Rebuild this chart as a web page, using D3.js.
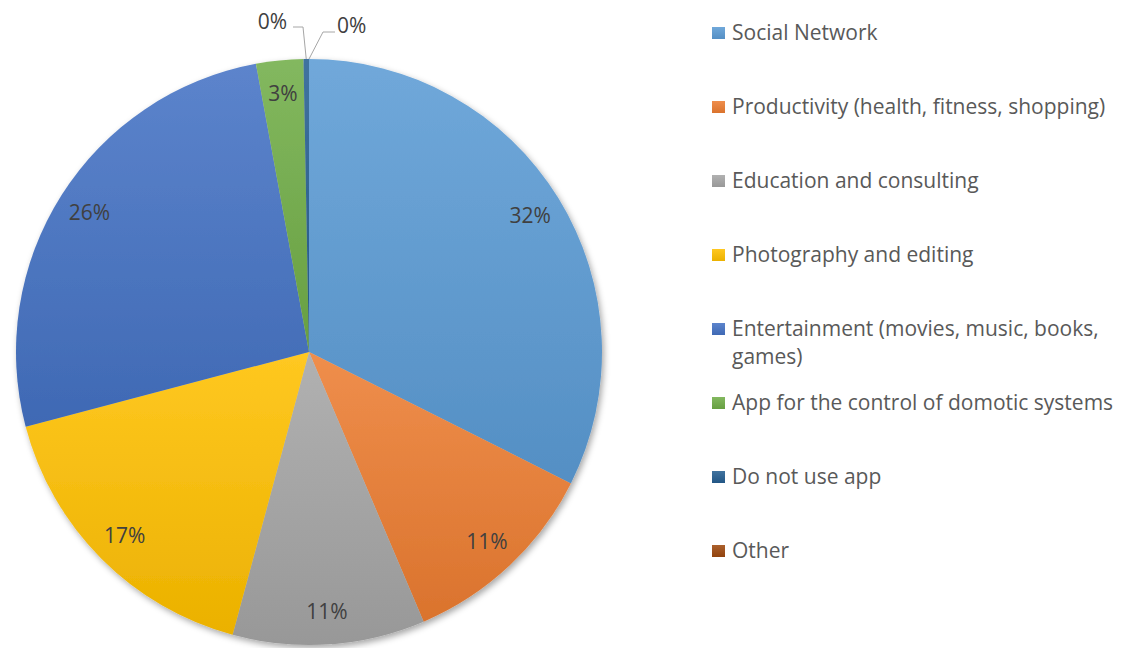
<!DOCTYPE html>
<html>
<head>
<meta charset="utf-8">
<script src="https://cdn.jsdelivr.net/npm/d3@7"></script>
<style>
  body { margin: 0; background: #fff; }
  text { font-family: "Open Sans", "Noto Sans", sans-serif; }
</style>
</head>
<body>
<script>
// chart data (share of answers, %)
var categories = ["Social Network", "Productivity (health, fitness, shopping)", "Education and consulting",
                  "Photography and editing", "Entertainment (movies, music, books, games)",
                  "App for the control of domotic systems", "Do not use app", "Other"];
var shares = [32.4, 11.2, 10.6, 16.7, 26.2, 2.6, 0.3, 0];
var colors = ["#5B9BD5", "#ED7D31", "#A5A5A5", "#FFC000", "#4472C4", "#70AD47", "#255E91", "#9E480E"];

var w = 1123;
var h = 648;

var cx = 309, cy = 352, radius = 293, labelRadius = 260;

var svg = d3.select("body")
            .append("svg")
            .attr("width", w)
            .attr("height", h);

var defs = svg.append("defs");

// soft shadow under the pie
var shadow = defs.append("filter")
                 .attr("id", "shadow")
                 .attr("x", "-10%").attr("y", "-10%")
                 .attr("width", "120%").attr("height", "120%");
shadow.append("feDropShadow")
      .attr("dx", 2).attr("dy", 3)
      .attr("stdDeviation", 3)
      .attr("flood-color", "#000")
      .attr("flood-opacity", 0.35);

// one top-to-bottom gradient per category, like the office style
colors.forEach(function(c, i) {
  var g = defs.append("linearGradient")
              .attr("id", "grad" + i)
              .attr("x1", 0).attr("y1", 0)
              .attr("x2", 0).attr("y2", 1);
  g.append("stop").attr("offset", "0%").attr("stop-color", d3.interpolateRgb(c, "#fff")(0.13));
  g.append("stop").attr("offset", "100%").attr("stop-color", d3.interpolateRgb(c, "#000")(0.08));
});

var pie = d3.pie().sort(null).value(function(d) { return d; });
var arcs = pie(shares);

var arc = d3.arc().innerRadius(0).outerRadius(radius);
var labelArc = d3.arc().innerRadius(labelRadius).outerRadius(labelRadius);

var chart = svg.append("g")
               .attr("transform", "translate(" + cx + "," + cy + ")");

chart.append("g")
     .attr("filter", "url(#shadow)")
     .selectAll("path")
     .data(arcs)
     .enter()
     .append("path")
     .attr("d", arc)
     .attr("fill", function(d, i) { return "url(#grad" + i + ")"; });

function pct(d) { return Math.round(d.data) + "%"; }

// labels inside the slices
chart.selectAll(".inlabel")
     .data(arcs.filter(function(d) { return d.data >= 1; }))
     .enter()
     .append("text")
     .attr("class", "inlabel")
     .attr("transform", function(d) { return "translate(" + labelArc.centroid(d) + ")"; })
     .attr("text-anchor", "middle")
     .attr("dy", "0.35em")
     .style("font-size", "21px")
     .style("fill", "#404040")
     .text(pct);

// tiny slices get labels outside with leader lines
var small = arcs.filter(function(d) { return d.data < 1; });
var outside = [
  { elbow: [-6, -325], end: [-16, -325], textX: -22, textY: -330, anchor: "end" },
  { elbow: [14, -320], end: [26, -320], textX: 28, textY: -326, anchor: "start" }
];

small.forEach(function(d, i) {
  var a = (d.startAngle + d.endAngle) / 2;
  var edge = [Math.sin(a) * radius, -Math.cos(a) * radius];
  var o = outside[i];
  chart.append("polyline")
       .attr("points", [edge, o.elbow, o.end].map(function(p) { return p.join(","); }).join(" "))
       .attr("fill", "none")
       .attr("stroke", "#a6a6a6")
       .attr("stroke-width", 1);
  chart.append("text")
       .attr("x", o.textX)
       .attr("y", o.textY)
       .attr("dy", "0.35em")
       .attr("text-anchor", o.anchor)
       .style("font-size", "21px")
       .style("fill", "#404040")
       .text(pct(d));
});

// legend
var legendY = d3.scalePoint()
                .domain(categories)
                .range([33, 551]);

var legend = svg.selectAll(".legend")
                .data(categories)
                .enter()
                .append("g")
                .attr("class", "legend")
                .attr("transform", function(d) { return "translate(712," + legendY(d) + ")"; });

legend.append("rect")
      .attr("x", 0)
      .attr("y", -6)
      .attr("width", 13)
      .attr("height", 12)
      .attr("fill", function(d, i) { return "url(#grad" + i + ")"; });

legend.append("text")
      .attr("x", 20)
      .attr("dy", "0.35em")
      .style("font-size", "21px")
      .style("fill", "#595959")
      .each(function(d) {
        // wrap long names onto a second line
        var t = d3.select(this);
        var words = d.split(" ");
        var line = [];
        var tspan = t.append("tspan").attr("x", 20);
        words.forEach(function(word) {
          line.push(word);
          tspan.text(line.join(" "));
          if (tspan.node().getComputedTextLength() > 388 && line.length > 1) {
            line.pop();
            tspan.text(line.join(" "));
            line = [word];
            tspan = t.append("tspan").attr("x", 20).attr("dy", "1.33em").text(word);
          }
        });
      });
</script>
</body>
</html>
